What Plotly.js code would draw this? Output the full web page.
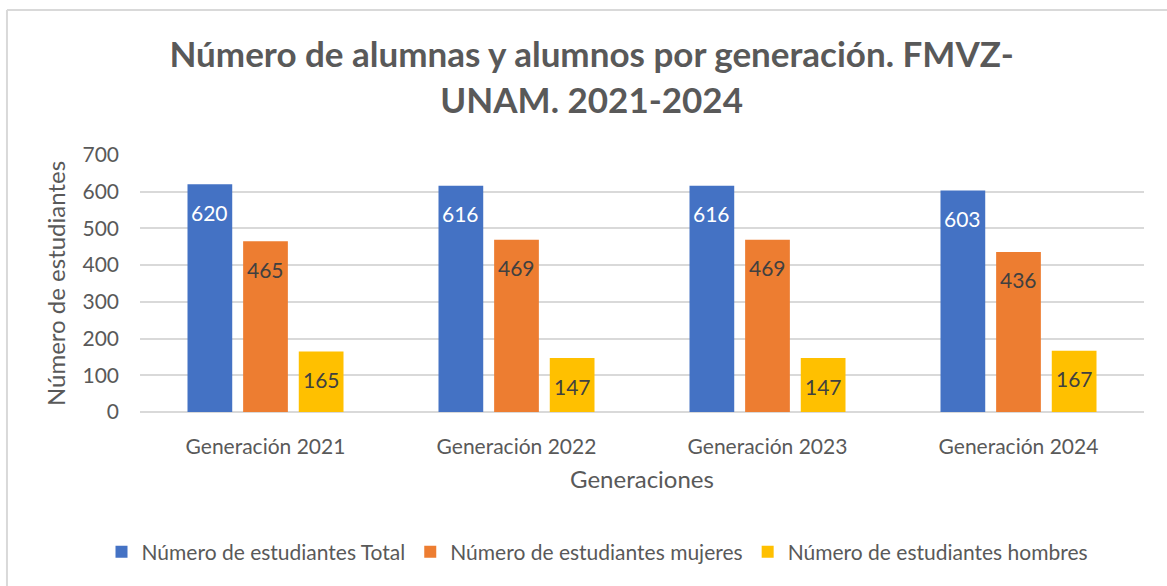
<!DOCTYPE html>
<html>
<head>
<meta charset="utf-8">
<script src="https://cdn.plot.ly/plotly-3.0.1.min.js"></script>
<style>html,body{margin:0;padding:0;background:#fff;}#chart{width:1167px;height:586px;}</style>
</head>
<body>
<div id="chart"></div>
<script>
const categories = ["Generación 2021", "Generación 2022", "Generación 2023", "Generación 2024"];
const seriesNames = ["Número de estudiantes Total", "Número de estudiantes mujeres", "Número de estudiantes hombres"];
const totalValues = [620, 616, 616, 603];
const mujeresValues = [465, 469, 469, 436];
const hombresValues = [165, 147, 147, 167];
const yTicks = [0, 100, 200, 300, 400, 500, 600, 700];

const colors = ["#4472C4", "#ED7D31", "#FFC000"];
const textColors = ["#FFFFFF", "#404040", "#404040"];
const FONT = "Lato, 'Open Sans', sans-serif";
const allValues = [totalValues, mujeresValues, hombresValues];

const W = 1167, H = 586;
const margin = {l: 140, r: 23, t: 155, b: 174};
const bargap = 0.335;
const plotW = W - margin.l - margin.r;
const slot = (plotW / categories.length) * (1 - bargap) / allValues.length;

const traces = allValues.map((vals, i) => ({
  type: "bar",
  name: seriesNames[i],
  x: categories,
  y: vals,
  marker: {color: colors[i], line: {width: 0}},
  hoverinfo: "x+y+name"
}));

const annotations = [];
allValues.forEach((vals, i) => {
  vals.forEach((v, j) => {
    annotations.push({
      xref: "x", yref: "y",
      x: categories[j], y: v,
      text: String(v),
      showarrow: false,
      xanchor: "center", yanchor: "middle",
      xshift: (i - (allValues.length - 1) / 2) * slot,
      yshift: -28,
      font: {family: FONT, size: 21, color: textColors[i]}
    });
  });
});

const layout = {
  width: W,
  height: H,
  paper_bgcolor: "#FFFFFF",
  plot_bgcolor: "#FFFFFF",
  font: {family: FONT, color: "#595959"},
  margin: margin,
  barmode: "group",
  bargap: bargap,
  bargroupgap: 0.196,
  title: {
    text: "<b>Número de alumnas y alumnos por generación. FMVZ-<br>UNAM. 2021-2024</b>",
    font: {family: FONT, size: 35, color: "#595959"},
    x: 0.507,
    xanchor: "center",
    y: 0.885,
    yanchor: "top"
  },
  xaxis: {
    type: "category",
    tickfont: {family: FONT, size: 21, color: "#595959"},
    ticks: "",
    ticklabelstandoff: 20,
    showline: false,
    showgrid: false,
    title: {text: "Generaciones", font: {family: FONT, size: 24, color: "#595959"}, standoff: 14}
  },
  yaxis: {
    range: [0, 700],
    tickvals: yTicks,
    tickfont: {family: FONT, size: 21, color: "#595959"},
    gridcolor: "#D9D9D9",
    gridwidth: 2,
    zeroline: true,
    zerolinecolor: "#D9D9D9",
    zerolinewidth: 2,
    ticklabelstandoff: 20,
    title: {text: "Número de estudiantes", font: {family: FONT, size: 24, color: "#595959"}, standoff: 10}
  },
  legend: {
    orientation: "h",
    xref: "container",
    yref: "container",
    x: 0.512,
    xanchor: "center",
    y: 0.058,
    yanchor: "middle",
    font: {family: FONT, size: 21, color: "#595959"},
    itemwidth: 30,
    tracegroupgap: 0
  },
  annotations: annotations,
  shapes: [
    {type: "line", xref: "paper", yref: "paper", x0: -0.1325, x1: 1.03, y0: 1.564, y1: 1.564, line: {color: "#D9D9D9", width: 2}},
    {type: "line", xref: "paper", yref: "paper", x0: -0.1325, x1: -0.1325, y0: 1.564, y1: -0.7, line: {color: "#D9D9D9", width: 2}}
  ],
  showlegend: true
};

Plotly.newPlot("chart", traces, layout, {displayModeBar: false, staticPlot: true});
</script>
</body>
</html>
